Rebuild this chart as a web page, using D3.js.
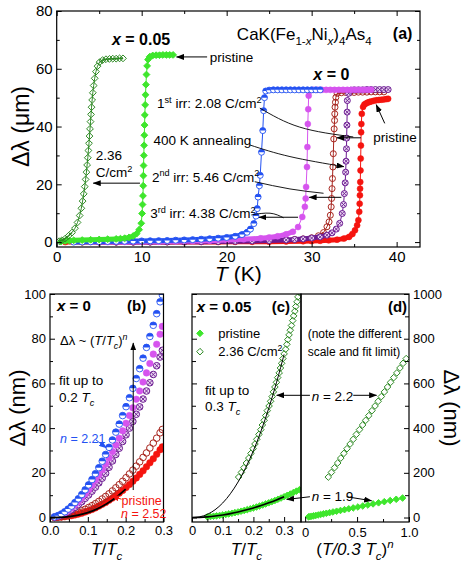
<!DOCTYPE html>
<html>
<head>
<meta charset="utf-8">
<script src="https://cdn.jsdelivr.net/npm/d3@7"></script>
<style>
  body { margin: 0; background: #fff; }
  svg { display: block; }
</style>
</head>
<body>
<div id="chart"></div>
<script>
// ---------------- data: panel (a), T (K) vs delta lambda (um) ----------------
// x = 0.05, pristine
const aGreenPriT  = [0.5,1,1.5,2,3,4,5,6,7,7.5,8,8.5,9.0,9.4,9.7,9.95,10.05,10.1,10.15,10.18,10.2,10.22,10.25,10.28,10.31,10.34,10.37,10.41,10.45,10.5,10.56,10.64,10.75,10.95,11.3,11.7,12.1,12.5,12.9,13.3,13.7];
const aGreenPriDl = [0.2,0.4,0.5,0.6,0.7,0.8,0.9,1.0,1.1,1.2,1.35,1.6,2.1,2.9,4.3,6.5,9.9,13,16,19.5,23,26.5,30,33.5,37,40.5,44,47.5,51,54.5,58,61,63.2,64.2,64.6,64.7,64.7,64.8,64.8,64.8,64.8];
// x = 0.05, 2.36 C/cm2
const aGreenIrrT  = [0.3,0.6,1.0,1.4,1.8,2.15,2.45,2.7,2.9,3.05,3.18,3.3,3.4,3.5,3.58,3.66,3.73,3.8,3.86,3.92,3.98,4.04,4.1,4.17,4.25,4.35,4.47,4.62,4.8,5.05,5.4,5.8,6.2,6.6,7.0,7.4,7.8];
const aGreenIrrDl = [0.3,0.6,1.2,2.2,3.3,4.8,6.8,9.2,11.7,14.2,16.7,19.2,21.7,24.2,26.7,29.2,31.7,34.2,36.7,39.2,41.7,44.2,46.7,49.2,51.7,54.2,56.7,59.0,60.9,62.3,63.0,63.3,63.4,63.5,63.5,63.6,63.6];
// x = 0, pristine
const aRedT  = [1,3,5,7,9,11,13,15,17,19,21,23,25,27,29,30,31,32,33,33.8,34.4,34.8,35.1,35.35,35.5,35.6,35.65,35.68,35.7,35.72,35.75,35.77,35.8,35.82,35.85,35.9,36.05,36.2,36.4,36.6,36.8,37.0,37.3,37.6,37.9,38.2,38.5,38.8,39.0];
const aRedDl = [0,0,0,0,0,0,0,0,0.05,0.05,0.1,0.1,0.15,0.2,0.3,0.35,0.45,0.6,0.85,1.2,1.8,2.8,4.1,5.8,7.6,10.5,13.3,16.2,18.5,20.8,24.8,28.9,33.4,38.0,40.9,44.4,46.8,47.6,48.0,48.3,48.5,48.7,48.9,49.1,49.2,49.3,49.4,49.5,49.6];
// x = 0, 1st irr 2.08 C/cm2
const aBrownT  = [3,5,7,9,11,13,15,17,19,21,23,25,27,28,29,30,30.8,31.4,31.8,32.05,32.2,32.3,32.35,32.4,32.45,32.5,32.55,32.6,32.65,32.7,32.72,32.75,32.8,32.85,33.0,33.5,34,34.5,35,35.5,36,36.5,37,37.5,38,38.5];
const aBrownDl = [0,0,0,0,0.05,0.1,0.1,0.15,0.2,0.3,0.4,0.5,0.7,0.9,1.1,1.5,2.2,3.3,5.3,7.0,9.3,12.2,15.1,18.5,22,26,30.6,35.7,39.2,42.1,44.4,46.7,48.4,50.1,51.5,51.7,51.8,51.8,51.8,51.9,51.9,51.9,52,52,52,52];
// x = 0, 400 K annealing
const aPurpleT  = [5,7,9,11,13,15,17,19,21,23,25,27,28,29,30,31,31.8,32.4,32.9,33.3,33.6,33.75,33.85,33.95,34.0,34.05,34.1,34.12,34.15,34.18,34.2,34.35,34.6,35,35.5,36,36.5,37,37.5,38,38.5,39];
const aPurpleDl = [0,0,0,0,0.05,0.1,0.15,0.2,0.3,0.4,0.55,0.75,0.9,1.1,1.4,1.8,2.4,3.2,4.5,6.5,9.9,13,16.8,20.5,24.2,28,32.3,36,40.5,45,49,51.5,52.6,52.7,52.7,52.7,52.8,52.8,52.8,52.8,52.8,52.8];
// x = 0, 2nd irr 5.46 C/cm2
const aPinkT  = [4,6,8,10,12,14,16,18,20,22,24,25,26,27,27.8,28.4,28.9,29.2,29.3,29.35,29.45,29.5,29.55,29.6,29.65,29.8,30.2,30.7,31.2,31.7,32.2,32.7,33.2,33.7,34.2,34.7,35.2,35.7,36.2,36.7,37.0];
const aPinkDl = [0,0,0.05,0.1,0.15,0.25,0.35,0.5,0.7,0.95,1.3,1.6,2.0,2.7,3.6,5.2,8.7,12.2,15.1,19.1,26,32.9,40.9,46,50.7,52.5,52.7,52.7,52.7,52.7,52.7,52.7,52.7,52.7,52.7,52.7,52.7,52.7,52.7,52.7,52.7];
// x = 0, 3rd irr 4.38 C/cm2
const aBlueT  = [2,3,4,5,6,7,8,9,10,11,12,13,14,15,16,17,18,19,20,21,21.8,22.4,22.8,23.2,23.45,23.6,23.7,23.85,23.95,24.1,24.25,24.35,24.45,24.6,25,25.5,26,26.5,27,27.5,28,28.5,29,29.5,30,30.5,31];
const aBlueDl = [0,0.05,0.1,0.15,0.2,0.25,0.3,0.35,0.4,0.45,0.5,0.55,0.65,0.75,0.85,1.0,1.15,1.35,1.6,2.0,2.6,3.4,4.5,6.4,9,11.6,15.6,19.5,23.1,31.1,38.6,45.5,50,52.3,52.6,52.7,52.7,52.7,52.7,52.7,52.7,52.7,52.7,52.7,52.7,52.7,52.7];
const aXTicks = [0,10,20,30,40], aXMinor = [5,15,25,35];
const aYTicks = [0,20,40,60,80], aYMinor = [10,30,50,70];

// ---------------- data: panel (b), T/Tc vs delta lambda (nm), x = 0 ----------------
const bT      = [0.012,0.021,0.030,0.039,0.048,0.057,0.066,0.075,0.084,0.093,0.102,0.111,0.120,0.129,0.138,0.147,0.156,0.165,0.174,0.183,0.192,0.201,0.210,0.219,0.228,0.237,0.246,0.255,0.264,0.273,0.282,0.291,0.297];
const bBlue   = [0.3,0.85,1.6,2.6,3.8,5.1,6.7,8.4,10.3,12.4,14.6,17.0,19.6,22.3,25.2,28.2,31.4,34.7,38.2,41.8,45.6,49.6,53.6,57.8,62.2,66.6,71.3,76.1,81.0,86.0,91.2,96.5,99.6];
const bPink   = [0.25,0.7,1.4,2.2,3.2,4.3,5.7,7.1,8.8,10.5,12.4,14.5,16.7,19.0,21.4,24.0,26.7,29.5,32.5,35.5,38.8,42.2,45.6,49.1,52.9,56.6,60.6,64.7,68.9,73.1,77.5,82.0,85.5];
const bPurple = [0.2,0.6,1.1,1.8,2.6,3.5,4.6,5.8,7.1,8.6,10.1,11.8,13.6,15.5,17.6,19.8,22.5,25.3,28.2,31.0,34.0,37.0,40.0,43.0,46.2,49.5,53.0,56.6,60.3,64.0,67.9,71.8,74.8];
const bBrown  = [0.06,0.18,0.37,0.63,0.96,1.36,1.84,2.38,3.0,3.7,4.46,5.3,6.2,7.2,8.3,9.4,10.6,11.9,13.3,14.7,16.2,17.8,19.5,21.2,23.0,24.9,26.9,28.9,31.1,33.3,35.5,37.9,39.4];
const bRed    = [0.03,0.09,0.2,0.36,0.57,0.84,1.16,1.54,1.97,2.47,3.0,3.6,4.3,5.1,5.9,6.7,7.7,8.7,9.8,10.9,12.1,13.4,14.8,16.2,17.7,19.3,20.9,22.7,24.5,26.3,28.3,30.3,31.6];
const bFitT   = [0,0.025,0.05,0.075,0.1,0.125,0.15,0.175,0.2];
const bFitDl  = [0,0.07,0.39,1.07,2.2,3.9,6.15,9.07,12.7];
const bXTicks = [0,0.1,0.2,0.3], bXMinor = [0.05,0.15,0.25];
const bYTicks = [0,20,40,60,80,100], bYMinor = [10,30,50,70,90];

// ---------------- data: panels (c) and (d), x = 0.05, delta lambda (nm) ----------------
const cPriT  = [0.05,0.06,0.07,0.08,0.09,0.10,0.11,0.12,0.13,0.14,0.15,0.16,0.17,0.18,0.19,0.20,0.21,0.22,0.23,0.24,0.25,0.26,0.27,0.28,0.29,0.30,0.31,0.32,0.33,0.34,0.35];
const cPriDl = [3.1,4.4,5.9,7.6,9.4,11.5,13.8,16.3,19.0,21.9,24.9,28.2,31.6,35.2,39.0,43.0,47.2,51.6,56.1,60.9,65.8,70.9,76.1,81.6,87.2,93,99,105,111.5,118,124.6];
const cIrrT  = [0.152,0.161,0.169,0.177,0.185,0.192,0.199,0.205,0.211,0.218,0.224,0.229,0.235,0.240,0.245,0.251,0.256,0.261,0.265,0.270,0.275,0.279,0.284,0.288,0.292,0.296,0.300,0.305,0.309,0.312,0.316,0.320,0.324,0.328,0.331,0.335,0.338,0.342,0.345,0.349];
const cIrrDl = [181,202,223,244,266,287,308,329,350,372,393,414,435,456,478,499,520,541,562,584,605,626,647,669,690,711,732,753,775,796,817,838,859,881,902,923,944,965,987,1008];
const cFitT      = [0,0.025,0.05,0.075,0.1,0.125,0.15,0.175,0.2,0.225,0.25,0.275,0.3];
const cFitIrr    = [0,3.1,14.2,34.6,65.1,106.4,158.9,223,299,387.6,488.8,602.8,730];
const cFitPri    = [0,0.8,3.1,6.7,11.5,17.6,24.9,33.4,43.0,53.8,65.8,78.8,93];
// panel (d): (T/0.3Tc)^n for the same points (pristine n = 1.9, irradiated n = 2.2)
const dPriU  = [0.033,0.047,0.063,0.081,0.102,0.124,0.149,0.175,0.204,0.235,0.268,0.303,0.340,0.379,0.420,0.463,0.508,0.555,0.604,0.654,0.707,0.762,0.819,0.877,0.938];
const dPriDl = [3.1,4.4,5.9,7.6,9.4,11.5,13.8,16.3,19.0,21.9,24.9,28.2,31.6,35.2,39.0,43.0,47.2,51.6,56.1,60.9,65.8,70.9,76.1,81.6,87.2];
const dIrrU  = [0.223,0.253,0.283,0.313,0.343,0.373,0.403,0.433,0.463,0.493,0.523,0.553,0.583,0.613,0.643,0.673,0.703,0.733,0.763,0.793,0.823,0.853,0.883,0.913,0.943,0.973];
const dIrrDl = [181,202,223,244,266,287,308,329,350,372,393,414,435,456,478,499,520,541,562,584,605,626,647,669,690,711];
const cXTicks = [0,0.1,0.2,0.3], cXMinor = [0.05,0.15,0.25];
const dXTicks = [0,0.5,1.0], dXMinor = [0.25,0.75];
const cdYTicks = [0,200,400,600,800,1000], cdYMinor = [100,300,500,700,900];

// ---------------- setup ----------------
const FONT = '"Liberation Sans", Arial, Helvetica, sans-serif';
const col = {blue: "#2452f2", pink: "#d654ee", purple: "#6c1a92", brown: "#a8261f",
             red: "#f5140f", green: "#3ee62c", dgreen: "#2e8a24"};

const svg = d3.select("#chart").append("svg")
    .attr("width", 469).attr("height", 566)
    .style("font-family", FONT);
const defs = svg.append("defs");

["black", "blue", "red"].forEach(k => {
    const c = k === "black" ? "#000" : col[k];
    defs.append("marker").attr("id", "ah-" + k)
        .attr("markerUnits", "userSpaceOnUse")
        .attr("markerWidth", 8).attr("markerHeight", 6)
        .attr("refX", 7.5).attr("refY", 3).attr("orient", "auto")
      .append("path").attr("d", "M0,0 L8,3 L0,6 Z").attr("fill", c);
});

// scales
const xA = d3.scaleLinear().domain([0, 42.75]).range([56.7, 420]);
const yA = d3.scaleLinear().domain([-1.7, 80]).range([247, 11]);
const xB = d3.scaleLinear().domain([0, 0.3]).range([50, 163.5]);
const yB = d3.scaleLinear().domain([-2, 100]).range([522, 294]);
const xC = d3.scaleLinear().domain([0, 0.355]).range([192, 301]);
const yC = d3.scaleLinear().domain([-20, 1000]).range([522, 294]);
const xD = d3.scaleLinear().domain([-0.04, 1.0]).range([301, 409]);

function clipFor(id, xs, ys) {
    const [x0, x1] = xs.range(), [y1, y0] = ys.range();
    defs.append("clipPath").attr("id", id).append("rect")
        .attr("x", x0).attr("y", y0).attr("width", x1 - x0).attr("height", y1 - y0);
    return svg.append("g").attr("clip-path", `url(#${id})`);
}

function marker(g, shape, x, y, r, c) {
    if (shape === "filled") {
        g.append("circle").attr("cx", x).attr("cy", y).attr("r", r).attr("fill", c).attr("stroke", c).attr("stroke-width", 0.5);
    } else if (shape === "open") {
        g.append("circle").attr("cx", x).attr("cy", y).attr("r", r).attr("fill", "none").attr("stroke", c).attr("stroke-width", 1);
    } else if (shape === "half") {
        g.append("circle").attr("cx", x).attr("cy", y).attr("r", r).attr("fill", "#fff").attr("stroke", c).attr("stroke-width", 0.9);
        g.append("path").attr("d", `M${x - r},${y} A${r},${r} 0 0 1 ${x + r},${y} Z`).attr("fill", c);
    } else if (shape === "cross") {
        const q = r * 0.7;
        g.append("circle").attr("cx", x).attr("cy", y).attr("r", r).attr("fill", "#e9d8f0").attr("stroke", c).attr("stroke-width", 1);
        g.append("path").attr("d", `M${x - q},${y - q}L${x + q},${y + q}M${x - q},${y + q}L${x + q},${y - q}`)
            .attr("stroke", c).attr("stroke-width", 0.9);
    } else if (shape === "diamond" || shape === "diamondOpen") {
        g.append("path").attr("d", `M${x},${y - r}L${x + r},${y}L${x},${y + r}L${x - r},${y}Z`)
            .attr("fill", shape === "diamond" ? c : "none").attr("stroke", c).attr("stroke-width", 1);
    }
}

function series(g, xs, ys, X, Y, st) {
    const pts = X.map((v, i) => [xs(v), ys(Y[i])]);
    if (st.line) {
        g.append("path").attr("d", d3.line()(pts)).attr("fill", "none")
            .attr("stroke", st.color).attr("stroke-width", st.line);
    }
    if (st.band) {
        // dense runs of points look like a solid band
        for (let i = 1; i < pts.length; i++) {
            const [x0, y0] = pts[i - 1], [x1, y1] = pts[i];
            if (Math.abs(y1 - y0) < 3.5 && Math.abs(x1 - x0) < 18) {
                g.append("line").attr("x1", x0).attr("y1", y0).attr("x2", x1).attr("y2", y1)
                    .attr("stroke", st.color).attr("stroke-width", st.band);
            }
        }
    }
    pts.forEach(p => marker(g, st.shape, p[0], p[1], st.r, st.color));
}

function fitLine(g, xs, ys, X, Y, w) {
    g.append("path")
        .attr("d", d3.line().curve(d3.curveCatmullRom)(X.map((v, i) => [xs(v), ys(Y[i])])))
        .attr("fill", "none").attr("stroke", "#000").attr("stroke-width", w);
}

function rich(g, x, y, parts, size, o = {}) {
    const t = g.append("text").attr("x", x).attr("y", y).attr("font-size", size)
        .attr("fill", o.fill || "#000").attr("text-anchor", o.anchor || "start");
    if (o.transform) t.attr("transform", o.transform);
    let cur = 0;
    parts.forEach(([s, f = ""]) => {
        const off = f.includes("_") ? 0.3 * size : f.includes("^") ? -0.4 * size : 0;
        const ts = t.append("tspan").attr("dy", off - cur).text(s);
        cur = off;
        if (off) ts.attr("font-size", size * 0.68);
        if (f.includes("i")) ts.attr("font-style", "italic");
        if (f.includes("B")) ts.attr("font-weight", "bold");
    });
    return t;
}

function arrow(g, x1, y1, x2, y2, k = "black") {
    g.append("line").attr("x1", x1).attr("y1", y1).attr("x2", x2).attr("y2", y2)
        .attr("stroke", k === "black" ? "#000" : col[k]).attr("stroke-width", 1)
        .attr("marker-end", `url(#ah-${k})`);
}

function curve(g, pts, head) {
    const p = g.append("path").attr("d", d3.line().curve(d3.curveNatural)(pts))
        .attr("fill", "none").attr("stroke", "#000").attr("stroke-width", 0.9);
    if (head) p.attr("marker-end", "url(#ah-black)");
}

function axis(gen, tf, size = 13) {
    const a = svg.append("g").attr("transform", tf).call(gen)
        .attr("font-size", size).attr("font-family", FONT);
    a.select(".domain").remove();
    a.selectAll("line").attr("stroke", "#000");
    a.selectAll("text").attr("fill", "#000");
    return a;
}

function frame(xs, ys) {
    const [x0, x1] = xs.range(), [y1, y0] = ys.range();
    svg.append("rect").attr("x", x0).attr("y", y0).attr("width", x1 - x0).attr("height", y1 - y0)
        .attr("fill", "none").attr("stroke", "#000").attr("stroke-width", 1.2);
}

// ---------------- panel (a) ----------------
const ga = clipFor("clipA", xA, yA);
const aStyle = (color, shape, band) => ({color, shape, r: 3, line: 1, band});
series(ga, xA, yA, aRedT, aRedDl, aStyle(col.red, "filled", 5));
series(ga, xA, yA, aBrownT, aBrownDl, aStyle(col.brown, "open", 2));
series(ga, xA, yA, aPurpleT, aPurpleDl, aStyle(col.purple, "cross", 5));
series(ga, xA, yA, aPinkT, aPinkDl, aStyle(col.pink, "filled", 5));
series(ga, xA, yA, aBlueT, aBlueDl, aStyle(col.blue, "half", 5));
series(ga, xA, yA, aGreenPriT, aGreenPriDl, {color: col.green, shape: "diamond", r: 3.4, line: 1, band: 5});
series(ga, xA, yA, aGreenIrrT, aGreenIrrDl, {color: col.dgreen, shape: "diamondOpen", r: 3.4, line: 1, band: 1.5});

frame(xA, yA);
const aB = yA.range()[0], aT = yA.range()[1], aL = xA.range()[0], aR = xA.range()[1];
axis(d3.axisBottom(xA).tickValues(aXTicks).tickSize(-5).tickPadding(4), `translate(0,${aB})`, 15);
axis(d3.axisBottom(xA).tickValues(aXMinor).tickSize(-3).tickFormat(""), `translate(0,${aB})`);
axis(d3.axisTop(xA).tickValues(aXTicks).tickSize(-5).tickFormat(""), `translate(0,${aT})`);
axis(d3.axisTop(xA).tickValues(aXMinor).tickSize(-3).tickFormat(""), `translate(0,${aT})`);
axis(d3.axisLeft(yA).tickValues(aYTicks).tickSize(-5).tickPadding(4), `translate(${aL},0)`, 15);
axis(d3.axisLeft(yA).tickValues(aYMinor).tickSize(-3).tickFormat(""), `translate(${aL},0)`);
axis(d3.axisRight(yA).tickValues(aYTicks).tickSize(-5).tickFormat(""), `translate(${aR},0)`);
axis(d3.axisRight(yA).tickValues(aYMinor).tickSize(-3).tickFormat(""), `translate(${aR},0)`);

const an = svg.append("g");
rich(an, 0, 0, [["Δλ (μm)"]], 23, {anchor: "middle", transform: `translate(29,${yA(40)}) rotate(-90)`});
rich(an, (aL + aR) / 2, 281, [["T", "i"], [" (K)"]], 21, {anchor: "middle"});
rich(an, xA(6.5), yA(68.2), [["x", "iB"], [" = 0.05", "B"]], 16);
rich(an, xA(21.2), yA(70), [["CaK(Fe"], ["1-", "_"], ["x", "_i"], ["Ni"], ["x", "_i"], [")"], ["4", "_"], ["As"], ["4", "_"]], 17);
rich(an, xA(39.55), yA(70.3), [["(a)", "B"]], 16);
rich(an, xA(18.0), yA(62.3), [["pristine"]], 13.5);
arrow(an, xA(17.7), yA(64.1), xA(14.1), yA(64.1));
rich(an, xA(30.2), yA(56.1), [["x", "iB"], [" = 0", "B"]], 16);
rich(an, xA(11.8), yA(46.3), [["1"], ["st", "^"], [" irr: 2.08 C/cm"], ["2", "^"]], 13.5);
rich(an, xA(11.4), yA(33.6), [["400 K annealing"]], 13.5);
rich(an, xA(11.2), yA(20.9), [["2"], ["nd", "^"], [" irr: 5.46 C/cm"], ["2", "^"]], 13.5);
rich(an, xA(11.0), yA(8.2), [["3"], ["rd", "^"], [" irr: 4.38 C/cm"], ["2", "^"]], 13.5);
rich(an, xA(4.6), yA(28.4), [["2.36"]], 13.5);
rich(an, xA(4.6), yA(22.5), [["C/cm"], ["2", "^"]], 13.5);
arrow(an, xA(9.8), yA(20.4), xA(4.3), yA(20.4));
rich(an, xA(37.25), yA(34.8), [["pristine"]], 13.5);
arrow(an, xA(38.6), yA(41.1), xA(37.6), yA(47.6));
curve(an, [[xA(23.9), yA(46.4)], [xA(28.6), yA(39.8)], [xA(34.9), yA(36.4)]]);
arrow(an, xA(35.8), yA(36.1), xA(32.95), yA(36.1));
curve(an, [[xA(22.75), yA(33.6)], [xA(27.45), yA(29.6)], [xA(33.8), yA(26.1)]], true);
curve(an, [[xA(23.3), yA(20.9)], [xA(27.45), yA(18.4)], [xA(31.4), yA(16.9)]]);
arrow(an, xA(33.5), yA(15.5), xA(29.7), yA(15.5));
curve(an, [[xA(22.9), yA(9.4)], [xA(25.1), yA(10.0)], [xA(26.7), yA(8.4)]]);
arrow(an, xA(28.4), yA(8.6), xA(23.8), yA(8.6));

// ---------------- panel (b) ----------------
const gb = clipFor("clipB", xB, yB);
const bStyle = (color, shape) => ({color, shape, r: 3.3});
series(gb, xB, yB, bT, bRed, bStyle(col.red, "filled"));
series(gb, xB, yB, bT, bBrown, bStyle(col.brown, "open"));
series(gb, xB, yB, bT, bPurple, bStyle(col.purple, "cross"));
series(gb, xB, yB, bT, bPink, bStyle(col.pink, "filled"));
series(gb, xB, yB, bT, bBlue, bStyle(col.blue, "half"));
fitLine(gb, xB, yB, bFitT, bFitDl, 1.8);

frame(xB, yB);
const bBot = yB.range()[0], bL = xB.range()[0];
axis(d3.axisBottom(xB).tickValues(bXTicks).tickSize(-5).tickPadding(4).tickFormat(d3.format(".1f")), `translate(0,${bBot})`);
axis(d3.axisBottom(xB).tickValues(bXMinor).tickSize(-3).tickFormat(""), `translate(0,${bBot})`);
axis(d3.axisLeft(yB).tickValues(bYTicks).tickSize(-5).tickPadding(4), `translate(${bL},0)`);
axis(d3.axisLeft(yB).tickValues(bYMinor).tickSize(-3).tickFormat(""), `translate(${bL},0)`);

const bn = svg.append("g");
rich(bn, 0, 0, [["Δλ (nm)"]], 22, {anchor: "middle", transform: `translate(25,${yB(49)}) rotate(-90)`});
rich(bn, (xB.range()[0] + xB.range()[1]) / 2, 555, [["T", "i"], ["/"], ["T", "i"], ["c", "_i"]], 17, {anchor: "middle"});
rich(bn, xB(0.0185), yB(92.4), [["x", "iB"], [" = 0", "B"]], 15);
rich(bn, xB(0.2035), yB(92.4), [["(b)", "B"]], 15);
rich(bn, xB(0.0264), yB(77.2), [["Δλ ~ ("], ["T", "i"], ["/"], ["T", "i"], ["c", "_i"], [")"], ["n", "^i"]], 13);
arrow(bn, xB(0.22), yB(12.3), xB(0.22), yB(78.1));
rich(bn, xB(0.0238), yB(59.3), [["fit up to"]], 13.5);
rich(bn, xB(0.0238), yB(51.7), [["0.2 "], ["T", "i"], ["c", "_i"]], 13.5);
rich(bn, xB(0.0264), yB(33.3), [["n", "i"], [" = 2.21"]], 12.5, {fill: col.blue});
arrow(bn, xB(0.1216), yB(34.7), xB(0.1494), yB(31.1), "blue");
rich(bn, xB(0.189), yB(5.8), [["pristine"]], 12.5, {fill: col.red});
rich(bn, xB(0.1877), yB(-0.3), [["n", "i"], [" = 2.52"]], 12.5, {fill: col.red});
arrow(bn, xB(0.189), yB(8.2), xB(0.1626), yB(9.6), "red");

// ---------------- panels (c) and (d) ----------------
const gc = clipFor("clipC", xC, yC);
series(gc, xC, yC, cPriT, cPriDl, {color: col.green, shape: "diamond", r: 3.3});
series(gc, xC, yC, cIrrT, cIrrDl, {color: col.dgreen, shape: "diamondOpen", r: 3.3});
fitLine(gc, xC, yC, cFitT, cFitIrr, 1);
fitLine(gc, xC, yC, cFitT, cFitPri, 1.6);

const gd = clipFor("clipD", xD, yC);
series(gd, xD, yC, dPriU, dPriDl, {color: col.green, shape: "diamond", r: 3.3});
series(gd, xD, yC, dIrrU, dIrrDl, {color: col.dgreen, shape: "diamondOpen", r: 3.3});

frame(xC, yC);
frame(xD, yC);
const cBot = yC.range()[0];
const fmt0 = d => d === 0 ? "0" : d3.format(".1f")(d);
axis(d3.axisBottom(xC).tickValues(cXTicks).tickSize(-5).tickPadding(4).tickFormat(fmt0), `translate(0,${cBot})`);
axis(d3.axisBottom(xC).tickValues(cXMinor).tickSize(-3).tickFormat(""), `translate(0,${cBot})`);
axis(d3.axisLeft(yC).tickValues(cdYTicks).tickSize(-5).tickFormat(""), `translate(${xC.range()[0]},0)`);
axis(d3.axisLeft(yC).tickValues(cdYMinor).tickSize(-4).tickFormat(""), `translate(${xC.range()[0]},0)`);
axis(d3.axisBottom(xD).tickValues(dXTicks).tickSize(-5).tickPadding(6).tickFormat(fmt0), `translate(0,${cBot})`);
axis(d3.axisBottom(xD).tickValues(dXMinor).tickSize(-3).tickFormat(""), `translate(0,${cBot})`);
axis(d3.axisRight(yC).tickValues(cdYTicks).tickSize(-5).tickPadding(4).tickFormat(d3.format("d")), `translate(${xD.range()[1]},0)`);
axis(d3.axisRight(yC).tickValues(cdYMinor).tickSize(-4).tickFormat(""), `translate(${xD.range()[1]},0)`);

const cn = svg.append("g");
rich(cn, 0, 0, [["Δλ (nm)"]], 22, {anchor: "middle", transform: `translate(444,${yC(490)}) rotate(90)`});
rich(cn, (xC.range()[0] + xC.range()[1]) / 2, 555, [["T", "i"], ["/"], ["T", "i"], ["c", "_i"]], 17, {anchor: "middle"});
rich(cn, (xD.range()[0] + xD.range()[1]) / 2, 555, [["("], ["T/0.3 T", "i"], ["c", "_i"], [")"], ["n", "^i"]], 17, {anchor: "middle"});
rich(cn, xC(0.0153), yC(919), [["x", "iB"], [" = 0.05", "B"]], 15);
rich(cn, xC(0.2596), yC(919), [["(c)", "B"]], 15);
rich(cn, xD(0.797), yC(919), [["(d)", "B"]], 15);
marker(cn, "diamond", xC(0.026), yC(824), 3.3, col.green);
rich(cn, xC(0.0857), yC(803), [["pristine"]], 13);
marker(cn, "diamondOpen", xC(0.026), yC(742), 3.3, col.dgreen);
rich(cn, xC(0.0857), yC(723), [["2.36 C/cm"], ["2", "^"]], 13);
rich(cn, xC(0.0423), yC(550), [["fit up to"]], 13.5);
rich(cn, xC(0.0423), yC(476.5), [["0.3 "], ["T", "i"], ["c", "_i"]], 13.5);
rich(cn, xD(0.024), yC(803), [["(note the different"]], 12);
rich(cn, xD(0.024), yC(723), [["scale and fit limit)"]], 12);
rich(cn, xD(0.0626), yC(523.5), [["n", "i"], [" = 2.2"]], 13.5);
arrow(cn, xD(0.046), yC(546.8), xD(-0.2745), yC(546.8));
arrow(cn, xD(0.463), yC(546.8), xD(0.6885), yC(546.8));
rich(cn, xD(0.0626), yC(76), [["n", "i"], [" = 1.9"]], 13.5);
arrow(cn, xD(0.046), yC(93), xD(-0.178), yC(81));
arrow(cn, xD(0.40), yC(93), xD(0.64), yC(75));
</script>
</body>
</html>
